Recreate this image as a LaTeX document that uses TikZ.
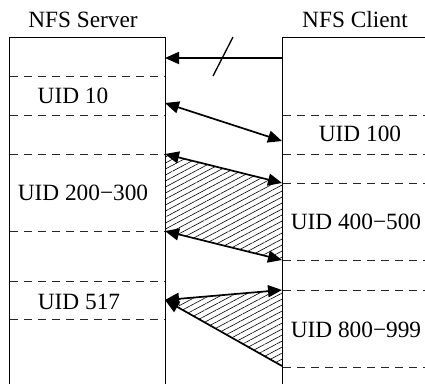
\documentclass[tikz,border=0pt]{standalone}
\usepackage{fontspec}
\setmainfont{Liberation Serif}
\usetikzlibrary{arrows.meta,patterns.meta}
\tikzset{
  boxline/.style={line width=0.9pt},
  sep/.style={line width=0.8pt, dash pattern=on 8pt off 6pt, draw=black!85},
  tip/.tip={Triangle[length=14pt,width=12pt]},
  maparrow/.style={line width=1.7pt, tip-tip},
  onearrow/.style={line width=1.7pt, -tip},
  hatch/.style={pattern={Lines[angle=28,distance=5.3pt,line width=0.6pt]}},
  lbl/.style={font=\fontsize{23.3}{27}\selectfont, inner sep=0pt},
}
\begin{document}
\begin{tikzpicture}[x=1pt,y=-1pt]
\useasboundingbox (0,0) rectangle (425,383);
\clip (0,0) rectangle (425,383);

% headings
\node[lbl] (srvtitle) at (83,20) {NFS Server};
\node[lbl] (clititle) at (355,20) {NFS Client};

% server column
\coordinate (s1) at (165,58);
\coordinate (s2) at (165,103);
\coordinate (s3a) at (165,154);
\coordinate (s3b) at (165,231);
\coordinate (s4) at (165,300);
% client column
\coordinate (c1) at (282,58);
\coordinate (c2) at (282,141);
\coordinate (c3a) at (282,183);
\coordinate (c3b) at (282,260);
\coordinate (c4a) at (282,290);
\coordinate (c4b) at (282,366);

% hatched ranges
\fill[hatch] (s3a) -- (c3a) -- (c3b) -- (s3b) -- cycle;
\fill[hatch] (s4) -- (c4a) -- (c4b) -- cycle;

% boxes
\draw[boxline] (9,390) -- (9,37) -- (165,37) -- (165,390);
\draw[boxline] (282,390) -- (282,37) -- (430,37);

% server partitions
\foreach \yy in {76,115,154,231,281,319}
  \draw[sep] (10,\yy) -- (165,\yy);
% client partitions
\foreach \yy in {115,154,183,260,290,367}
  \draw[sep] (283,\yy) -- (430,\yy);

% labels
\node[lbl] (u10) at (73,96) {UID 10};
\node[lbl] (u100) at (360,134) {UID 100};
\node[lbl] (u200) at (83,193) {UID 200−300};
\node[lbl] (u400) at (356,222) {UID 400−500};
\node[lbl] (u517) at (79,302) {UID 517};
\node[lbl] (u800) at (356,330) {UID 800−999};

% mappings
\draw[onearrow] (c1) -- (s1);
\coordinate (cutA) at (213,76);
\coordinate (cutB) at (233,37);
\draw[line width=1.3pt] (cutA) -- (cutB);
\draw[maparrow] (s2) -- (c2);
\draw[maparrow] (s3a) -- (c3a);
\draw[maparrow] (s3b) -- (c3b);
\draw[maparrow] (s4) -- (c4a);
\draw[line width=1.7pt, tip-] (s4) -- (c4b);
\end{tikzpicture}
\end{document}
